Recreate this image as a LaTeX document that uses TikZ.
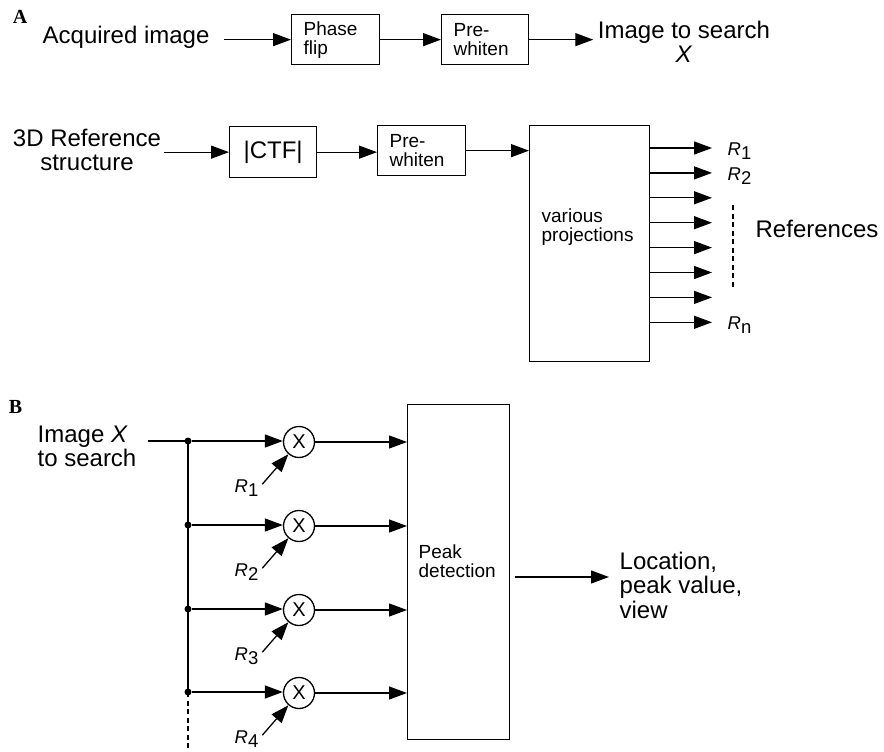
\documentclass[tikz,border=0pt]{standalone}
\usepackage{fontspec}
\setmainfont{Liberation Sans}
\newfontfamily\panelfont{Liberation Serif}
\usetikzlibrary{arrows.meta, positioning}

\newcommand{\fbig}{\fontsize{24}{24.5}\selectfont}
\newcommand{\fsmall}{\fontsize{19}{19}\selectfont}
\newcommand{\fref}{\fontsize{18.5}{18.5}\selectfont}
\newcommand{\Rsub}[1]{\textit{R}\raisebox{-4pt}{#1}}

\begin{document}
\begin{tikzpicture}[
    x=1pt, y=-1pt,
    line width=1.3pt,
    box/.style={draw, anchor=north west, align=left, inner xsep=12pt, inner ysep=0pt, font=\fsmall},
    txt/.style={align=center, inner sep=0pt, font=\fbig},
    inbox/.style={align=left, anchor=west, inner sep=0pt, font=\fsmall},
    arr/.style={-{Triangle[length=18pt, width=13pt]}, line width=1.3pt},
    mult/.style={draw, circle, minimum size=31pt, inner sep=0pt, font=\fontsize{20}{20}\selectfont},
    dot/.style={circle, fill, inner sep=0pt, minimum size=7pt},
    rlab/.style={inner sep=0pt, font=\fref},
    panel/.style={inner sep=0pt, font=\panelfont\bfseries\fontsize{20}{20}\selectfont}
]
\useasboundingbox (0,0) rectangle (884,752);

% Panel A: image path
\node[panel] (pa) at (20,17) {A};
\node[txt, anchor=base west] (acq) at (42,44) {Acquired image};
\node[box, text width=64pt, minimum height=50pt] (flip) at (291,14) {Phase\\flip};
\node[box, text width=63pt, minimum height=50pt] (pw1) at (441,14) {Pre-\\whiten};
\node[txt, anchor=north] (search) at (684,20) {Image to search\\\textit{X}};

\draw[arr, shorten <=14pt] (acq.east |- flip.west) -- (flip.west);
\draw[arr] (flip.east) -- (flip.east -| pw1.west);
\draw[arr, shorten >=4pt] (pw1.east) -- (pw1.east -| search.west);

% Panel A: reference path
\node[txt, anchor=north] (ref3d) at (87,128) {3D Reference\\structure};
\node[box, font=\fbig, align=center, text width=63pt, minimum height=51pt] (ctf) at (229,126) {|CTF|};
\node[box, text width=64pt, minimum height=50pt] (pw2) at (377,125) {Pre-\\whiten};
\node[box, minimum width=120pt, minimum height=236pt] (proj) at (529,125) {};
\node[inbox] (projtxt) at ([xshift=12pt, yshift=17pt]proj.west) {various\\projections};

\draw[arr, shorten <=2pt] (ref3d.east |- ctf.west) -- (ctf.west);
\draw[arr] (ctf.east) -- (ctf.east -| pw2.west);
\draw[arr] (pw2.east) -- (pw2.east -| proj.west);

% projections out
\foreach \i in {0,...,7}{
    \coordinate (o\i) at (712,148+24.9*\i);
    \draw[arr] (proj.east |- o\i) -- (o\i);
}
\node[rlab, anchor=west] (ra1) at ([xshift=15pt, yshift=-3pt]o0) {\Rsub{1}};
\node[rlab, anchor=west] (ra2) at ([xshift=15pt, yshift=-3pt]o1) {\Rsub{2}};
\node[rlab, anchor=west] (ran) at ([xshift=15pt, yshift=-3pt]o7) {\Rsub{n}};
\coordinate (dtop) at (733,205);
\coordinate (dbot) at (733,287);
\draw[line width=1.1pt, dash pattern=on 5pt off 3.5pt] (dtop) -- (dbot);
\node[txt, anchor=base west] (refs) at (755,237) {References};

% Panel B
\node[panel] (pb) at (15.5,407) {B};
\node[txt, align=left, anchor=north west] (imgx) at (37,425) {Image \textit{X}\\to search};
\node[box, minimum width=102pt, minimum height=335pt] (peak) at (407,404) {};
\node[inbox] (peaktxt) at ([xshift=11pt, yshift=11pt]peak.west) {Peak\\detection};

\foreach \y [count=\i] in {441,525,609,692}{
    \node[dot] (j\i) at (188,\y) {};
    \node[mult] (m\i) at (299,\y+1) {X};
    \node[rlab, anchor=east] (r\i) at (259,\y+47) {\Rsub{\i}};
    \draw[arr] (j\i) -- (m\i.west |- j\i);
    \draw[arr] (m\i) -- (m\i -| peak.west);
    \draw[arr, shorten <=5pt] (r\i.east) -- (m\i);
}
\draw[shorten <=11pt] (imgx.east |- j1) -- (j1.center);
\draw (j1.center) -- (j4.center);
\coordinate (jend) at (188,752);
\draw[line width=1.1pt, dash pattern=on 5pt off 3.5pt] (j4.center) -- (jend);

\coordinate (out) at (609,577);
\draw[arr, shorten <=5pt] (peak.east |- out) -- (out);
\node[txt, align=left, anchor=north west] (loc) at (619,551) {Location,\\peak value,\\view};
\end{tikzpicture}
\end{document}
